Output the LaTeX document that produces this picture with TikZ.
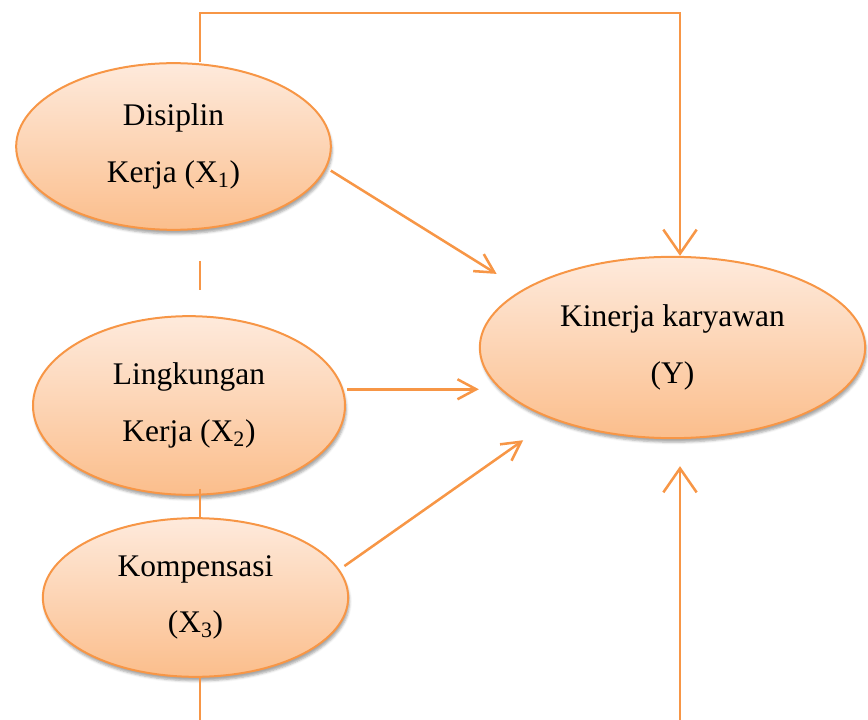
\documentclass[tikz,border=0pt]{standalone}
\usepackage{fontspec}
\setmainfont{Liberation Serif}
\usepackage{xcolor}
\usetikzlibrary{arrows.meta,calc,shapes,shadows.blur}
\definecolor{jingga}{HTML}{F79646}
\definecolor{atas}{HTML}{FEEADC}
\definecolor{bawah}{HTML}{FBBE8C}
\tikzset{
	var/.style={ellipse, draw=jingga, line width=1.5pt, top color=atas, bottom color=bawah,
		align=center, inner sep=0pt, font=\fontsize{23.6}{42.5}\selectfont,
		blur shadow={shadow xshift=1pt, shadow yshift=-3pt, shadow opacity=35}},
	garis/.style={draw=jingga, line width=1.9pt},
	panah/.style={garis, -{Straight Barb[length=14pt,width=15pt]}},
	panahbesar/.style={garis, -{Straight Barb[length=18pt,width=25pt]}},
}
\begin{document}
\begin{tikzpicture}[x=0.75pt,y=-0.75pt]
	\useasboundingbox (0,0) rectangle (868,720);
	\node[var, minimum width=236pt, minimum height=125pt] (x1) at (173.5,146.5) {Disiplin\\Kerja (X\textsubscript{1})};
	\node[var, minimum width=234pt, minimum height=134pt] (x2) at (189,405.5) {Lingkungan\\Kerja (X\textsubscript{2})};
	\node[var, minimum width=229pt, minimum height=119pt] (x3) at (195.5,597.5) {Kompensasi\\(X\textsubscript{3})};
	\node[var, minimum width=289pt, minimum height=136pt] (y) at (672.5,347.5) {Kinerja karyawan\\(Y)};
	\coordinate (kiri) at (200,13);
	\coordinate (kanan) at (680,13);
	\coordinate (bawahkiri) at (200,720);
	\coordinate (bawahkanan) at (680,720);
	\draw[panahbesar] (x1.north -| kiri) -- (kiri) -- (kanan) -- (kanan |- y.north);
	\draw[panahbesar, shorten >=20.25pt] (bawahkanan) -- (bawahkanan |- y.south);
	\draw[garis] ($(x1.south -| kiri)+(0,30)$) -- ++(0,29);
	\draw[garis] ($(x2.south -| kiri)+(0,-7)$) -- (x3.north -| kiri);
	\draw[garis] (x3.south -| kiri) -- (bawahkiri);
	\draw[panah, shorten <=3.75pt, shorten >=22.5pt] (x1.-8.5) -- (y.159.5);
	\draw[panah, shorten <=2.7pt] (x2.6) -- (x2.6 -| y.west);
	\draw[panah, shorten <=4.5pt, shorten >=27pt] (x3.11.2) -- (y.211.1);
\end{tikzpicture}
\end{document}
